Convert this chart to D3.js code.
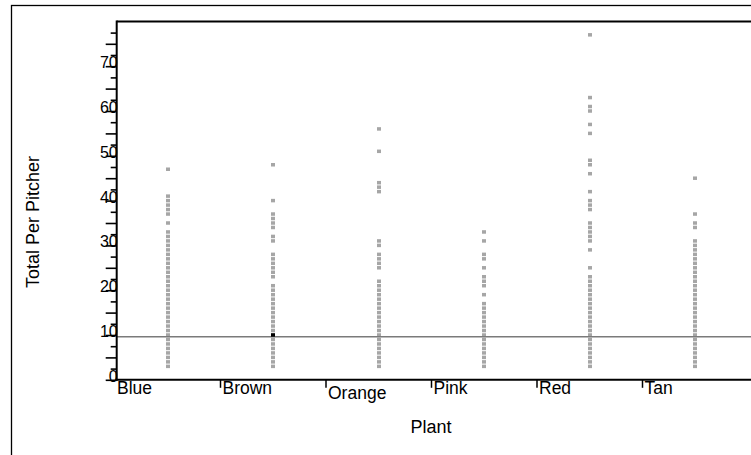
<!DOCTYPE html>
<html>
<head>
<meta charset="utf-8">
<script src="https://cdn.jsdelivr.net/npm/d3@7"></script>
<style>
  html, body { margin: 0; padding: 0; background: #fff; }
  svg { display: block; font-family: "Liberation Sans", Arial, sans-serif; }
</style>
</head>
<body>
<svg id="chart" width="751" height="455"></svg>
<script>
// ---- data ----
const categories = ["Blue", "Brown", "Orange", "Pink", "Red", "Tan"];
const blueValues = [3,4,5,6,7,8,9,10,11,12,13,14,15,16,17,18,19,20,21,22,23,24,25,26,27,28,29,30,31,32,33,35,37,38,39,40,41,47];
const brownValues = [3,4,5,6,7,8,9,10,11,12,13,14,15,16,17,18,19,20,21,23,24,25,26,27,28,31,32,34,35,36,37,40,48];
const orangeValues = [3,4,5,6,7,8,9,10,11,12,13,14,15,16,17,18,19,20,21,22,25,26,27,28,30,31,42,43,44,51,56];
const pinkValues = [3,4,5,6,7,8,9,10,11,12,13,14,15,16,17,19,21,22,23,25,27,28,31,33];
const redValues = [3,4,5,6,7,8,9,10,11,12,13,14,15,16,17,18,19,20,21,22,23,25,29,31,32,33,34,35,38,39,40,42,46,48,49,55,57,60,61,63,77];
const tanValues = [3,4,5,6,7,8,9,10,11,12,13,14,15,16,17,18,19,20,21,22,23,24,25,26,27,28,29,30,31,34,35,37,45];
const seriesValues = [blueValues, brownValues, orangeValues, pinkValues, redValues, tanValues];
const selectedPoint = { category: "Brown", value: 10 };
const referenceValue = 9.6;
const yMajorTicks = [0, 10, 20, 30, 40, 50, 60, 70];
const xTitle = "Plant";
const yTitle = "Total Per Pitcher";

// ---- layout ----
const plotLeft = 116.7, plotTop = 21.4, plotBottom = 379.8, plotRight = 751;
const svg = d3.select("#chart");

const x = d3.scaleBand().domain(categories).range([115, 115 + 6 * 105.5]).paddingInner(0).paddingOuter(0);
const y = d3.scaleLinear().domain([0, 80]).range([plotBottom, plotTop]);

// outer border
svg.append("rect").attr("x", 11.5).attr("y", 5.5).attr("width", 800).attr("height", 500)
  .attr("fill", "none").attr("stroke", "#000").attr("stroke-width", 1.3);

// points
const pts = [];
categories.forEach((c, i) => seriesValues[i].forEach(v => pts.push({ c, v })));
svg.append("g").selectAll("rect").data(pts).join("rect")
  .attr("x", d => Math.round(x(d.c) + x.bandwidth() / 2 - 2))
  .attr("y", d => y(d.v) - 1.75)
  .attr("width", 4).attr("height", 3.5)
  .attr("fill", "#a6a6a6");

// reference line
svg.append("line").attr("x1", plotLeft).attr("x2", plotRight)
  .attr("y1", y(referenceValue)).attr("y2", y(referenceValue))
  .attr("stroke", "#7a7a7a").attr("stroke-width", 1.6);

// selected point
svg.append("rect")
  .attr("x", Math.round(x(selectedPoint.category) + x.bandwidth() / 2 - 2))
  .attr("y", y(selectedPoint.value) - 1.75)
  .attr("width", 4).attr("height", 3.5).attr("fill", "#000");

// y axis
const yAxis = d3.axisLeft(y).tickValues(d3.range(0, 80, 2.5)).tickSize(7).tickFormat("");
const gy = svg.append("g").attr("transform", `translate(${plotLeft},0)`).call(yAxis);
gy.select(".domain").remove();
gy.selectAll(".tick line").attr("stroke", "#000").attr("stroke-width", 1.6)
  .attr("x2", d => (d % 5 === 0 ? -11 : -6));
gy.selectAll(".tick").filter(d => yMajorTicks.includes(d)).append("text")
  .attr("x", 1).attr("y", 1.5).attr("text-anchor", "end")
  .attr("fill", "#000").attr("font-size", 16).attr("font-family", "Liberation Sans, Arial, sans-serif")
  .text(d => d);

// x axis (band scale positions; ticks at band starts)
const gx = svg.append("g").selectAll("g").data(categories).join("g")
  .attr("transform", d => `translate(${x(d)},${plotBottom})`);
gx.filter((d, i) => i > 0).append("line").attr("x1", 0).attr("x2", 0).attr("y1", 0).attr("y2", 8)
  .attr("stroke", "#000").attr("stroke-width", 1.5);
gx.append("text").attr("x", 2).attr("y", d => (d === "Orange" ? 19 : 14.5))
  .attr("font-size", 17.5).attr("fill", "#000").text(d => d);

// frame lines
svg.append("line").attr("x1", plotLeft).attr("x2", plotRight).attr("y1", plotTop).attr("y2", plotTop)
  .attr("stroke", "#000").attr("stroke-width", 2);
svg.append("line").attr("x1", plotLeft).attr("x2", plotLeft).attr("y1", plotTop - 1).attr("y2", plotBottom + 1)
  .attr("stroke", "#000").attr("stroke-width", 2);
svg.append("line").attr("x1", plotLeft - 1).attr("x2", plotRight).attr("y1", plotBottom).attr("y2", plotBottom)
  .attr("stroke", "#000").attr("stroke-width", 2);

// titles
svg.append("text").attr("x", 431).attr("y", 433).attr("text-anchor", "middle")
  .attr("font-size", 18).text(xTitle);
svg.append("text").attr("transform", "translate(39,222) rotate(-90)").attr("text-anchor", "middle")
  .attr("font-size", 18).text(yTitle);
</script>
</body>
</html>
